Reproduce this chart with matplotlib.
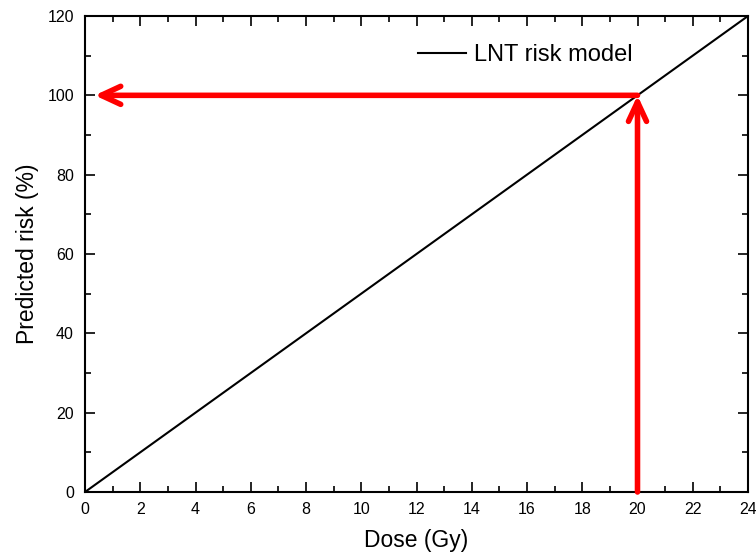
import matplotlib
matplotlib.use("Agg")
import matplotlib.pyplot as plt
from matplotlib.ticker import MultipleLocator

plt.rcParams['font.family'] = ['Liberation Sans', 'DejaVu Sans']

dose = [0, 24]
risk = [0, 120]
arrow_dose = 20
arrow_risk = 100

fig = plt.figure(figsize=(7.56, 5.56), dpi=100)
ax = fig.add_axes([85/756, 64/556, 663/756, 476/556])
ax.plot(dose, risk, color='black', lw=1.5, label='LNT risk model')
ax.set_xlim(0, 24)
ax.set_ylim(0, 120)
ax.xaxis.set_major_locator(MultipleLocator(2))
ax.xaxis.set_minor_locator(MultipleLocator(1))
ax.yaxis.set_major_locator(MultipleLocator(20))
ax.yaxis.set_minor_locator(MultipleLocator(10))
ax.tick_params(which='both', direction='in', top=True, right=True, labelsize=11.5, width=1.2)
ax.tick_params(which='major', length=7)
ax.tick_params(which='minor', length=4)
ax.tick_params(axis='x', which='major', pad=7.5)
ax.tick_params(axis='y', which='major', pad=8)
for s in ax.spines.values():
    s.set_linewidth(1.5)

astyle = '->,head_length=1.4,head_width=0.65'
ax.annotate('', xy=(arrow_dose, arrow_risk), xytext=(arrow_dose, 0),
            arrowprops=dict(arrowstyle=astyle, color='red', lw=4, capstyle='round',
                            joinstyle='round', shrinkA=0, shrinkB=0))
ax.annotate('', xy=(0.35, arrow_risk), xytext=(arrow_dose, arrow_risk),
            arrowprops=dict(arrowstyle=astyle, color='red', lw=4, capstyle='round',
                            joinstyle='round', shrinkA=0, shrinkB=0))

ax.set_xlabel('Dose (Gy)', fontsize=16.5, labelpad=8)
ax.set_ylabel('Predicted risk (%)', fontsize=16.5, labelpad=6)
leg = ax.legend(loc='center left', bbox_to_anchor=((418-85)/663, (492-55)/476), frameon=False,
                fontsize=17, handlelength=2.03, handletextpad=0.35, borderpad=0, borderaxespad=0)
fig.savefig('out.png', dpi=100)
